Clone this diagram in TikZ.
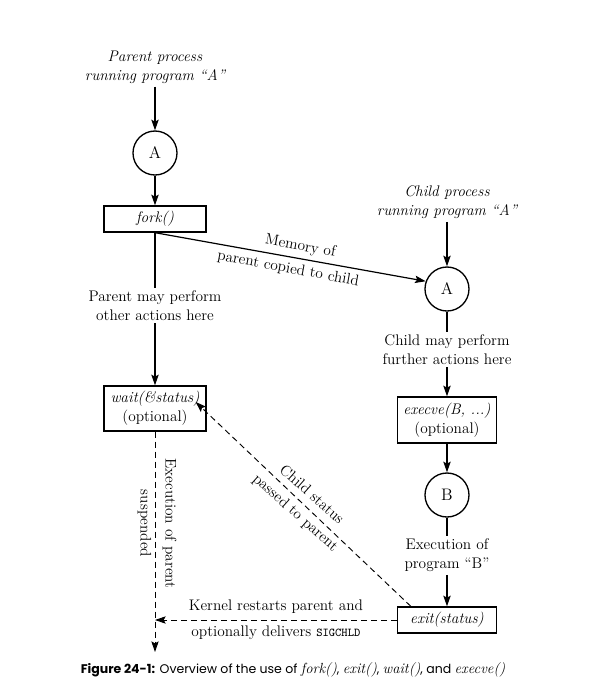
\documentclass[tikz,border=0pt]{standalone}
\usepackage{fontspec}
\usepackage{tikz}
\usetikzlibrary{arrows.meta}
\newfontfamily\capsans{Poppins}

\begin{document}
\begin{tikzpicture}[x=0.75pt,y=0.75pt,yscale=-1,
    note/.style={align=center, inner sep=2pt, font=\fontsize{11.5}{14.25}\selectfont},
    itnote/.style={note, font=\fontsize{11.5}{14.25}\selectfont\itshape},
    proc/.style={draw, circle, line width=1pt, minimum size=33pt, inner sep=0pt, font=\fontsize{12.5}{14}\selectfont},
    call/.style={draw, rectangle, line width=1pt, minimum width=76.5pt, minimum height=19.5pt, inner sep=0pt, align=center, font=\fontsize{11.5}{14.25}\selectfont},
    flow/.style={line width=0.9pt, -{Stealth[length=8pt,width=5.5pt,inset=1.5pt]}},
    waitline/.style={line width=0.7pt, dash pattern=on 4.5pt off 3pt}]

    \useasboundingbox (0,0) rectangle (615,694);

    % parent side
    \draw (155,67.5) node [itnote] (ptext) {Parent process\\running program ``A''};
    \draw (155,153) node [proc] (pA) {A};
    \draw (155,219) node [call] (fork) {\itshape fork()};
    \draw (155,305.5) node [note] (pother) {Parent may perform\\other actions here};
    \draw (155,408.5) node [call, minimum height=33.75pt] (wait) {\itshape wait(\&status)\\(optional)};
    \coordinate (pjoin) at (155,620);
    \coordinate (pend) at (155,652);
    \draw (157,523.5) node [note, rotate=-90] (susp) {Execution of parent\\[4.5pt]suspended};

    % child side
    \draw (447,202.5) node [itnote] (ctext) {Child process\\running program ``A''};
    \draw (447,289) node [proc] (cA) {A};
    \draw (447,349.5) node [note] (cother) {Child may perform\\further actions here};
    \draw (447,420) node [call, minimum width=74.25pt, minimum height=34.5pt] (execve) {\itshape execve(B, ...)\\(optional)};
    \draw (447,495) node [proc] (cB) {B};
    \draw (447,555.5) node [note] (cexec) {Execution of\\program ``B''};
    \draw (447,620) node [call, minimum width=74.25pt] (exit) {\itshape exit(status)};

    \draw[flow] (ptext) -- (pA);
    \draw[flow] (pA) -- (fork);
    \draw[line width=0.9pt] (fork.south) -- (pother.north);
    \draw[flow] (pother) -- (wait);
    \draw[flow, waitline] (wait.south) -- (pend);
    \draw[flow] (fork.south) -- node [note, rotate=-10.35] {\hspace*{12pt}Memory of\\[4pt]parent copied to child} (cA.160);

    \draw[flow] (ctext) -- (cA);
    \draw[line width=0.9pt] (cA) -- (cother.north);
    \draw[flow] (cother) -- (execve);
    \draw[flow] (execve) -- (cB);
    \draw[line width=0.9pt] (cB) -- (cexec.north);
    \draw[flow] (cexec) -- (exit);

    \draw[flow, waitline] ([xshift=10.5pt]exit.north west) -- node [note, rotate=-41.5] {Child status\\[4pt]passed to parent} ([xshift=-8.25pt,yshift=-4.9pt]wait.east);
    \draw[flow, waitline] (exit.west) -- node [note] {Kernel restarts parent and\\[5pt]optionally delivers {\ttfamily\small SIGCHLD}} (pjoin);

    % caption
    \draw (293,670) node [font=\capsans\fontsize{9.4}{12}\selectfont] (caption) {\textbf{Figure 24-1:} Overview of the use of {\rmfamily\itshape\fontsize{11}{12}\selectfont fork()}, {\rmfamily\itshape\fontsize{11}{12}\selectfont exit()}, {\rmfamily\itshape\fontsize{11}{12}\selectfont wait()}, and {\rmfamily\itshape\fontsize{11}{12}\selectfont execve()}};

\end{tikzpicture}
\end{document}
